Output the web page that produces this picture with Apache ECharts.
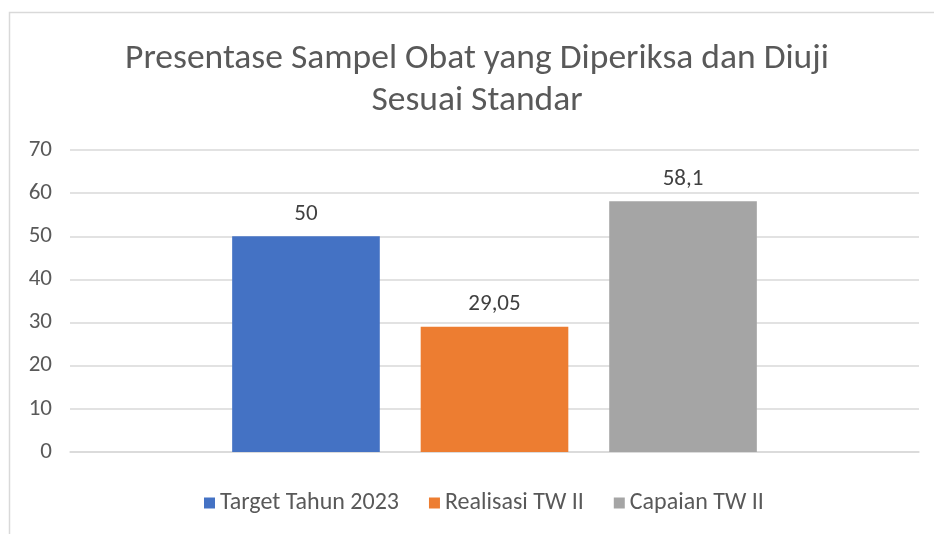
<!DOCTYPE html>
<html><head><meta charset="utf-8">
<script src="https://cdn.jsdelivr.net/npm/echarts@6/dist/echarts.min.js"></script>
<style>html,body{margin:0;padding:0;background:#fff}#c{width:934px;height:534px}</style>
</head><body><div id="c"></div>
<script>
const titleText = 'Presentase Sampel Obat yang Diperiksa dan Diuji\nSesuai Standar';
const categories = [''];
const seriesNames = ['Target Tahun 2023', 'Realisasi TW II', 'Capaian TW II'];
const seriesValues = [[50], [29.05], [58.1]];
const seriesColors = ['#4472C4', '#ED7D31', '#A5A5A5'];
const yTicks = {min: 0, max: 70, interval: 10};

const font = 'Calibri, Carlito, "Open Sans", "Noto Sans", sans-serif';
const chart = echarts.init(document.getElementById('c'), null, {renderer: 'canvas'});
chart.setOption({
  animation: false,
  backgroundColor: '#fff',
  title: {
    text: titleText, left: 477, top: 38, padding: 0, textAlign: 'center',
    textStyle: {fontFamily: font, fontSize: 35.5, fontWeight: 'normal', color: '#595959', lineHeight: 42}
  },
  graphic: [{type: 'rect', shape: {x: 9.5, y: 12.5, width: 940, height: 540},
    style: {fill: 'none', stroke: '#d9d9d9', lineWidth: 1.5}, silent: true}],
  legend: {
    bottom: 14, left: 199, itemWidth: 11, itemHeight: 11, itemGap: 30,
    icon: 'rect',
    textStyle: {fontFamily: font, fontSize: 24, color: '#595959'},
    data: seriesNames
  },
  grid: {left: 70, right: 15, top: 150, bottom: 82, containLabel: false},
  xAxis: {type: 'category', data: categories,
    axisLine: {show: true, lineStyle: {color: '#d9d9d9', width: 1.5}},
    axisTick: {show: false}, axisLabel: {show: false}},
  yAxis: {type: 'value', min: yTicks.min, max: yTicks.max, interval: yTicks.interval,
    axisLine: {show: false}, axisTick: {show: false},
    axisLabel: {fontFamily: font, fontSize: 23, color: '#595959', margin: 18},
    splitLine: {lineStyle: {color: '#d9d9d9', width: 1.5}}},
  series: seriesNames.map((n, i) => ({
    name: n, type: 'bar', data: seriesValues[i],
    itemStyle: {color: seriesColors[i]},
    barGap: '27.7%', barCategoryGap: '38.2%',
    label: {show: true, position: 'top', distance: 11,
      fontFamily: font, fontSize: 23, color: '#404040',
      formatter: p => String(p.value).replace('.', ',')}
  }))
});
</script></body></html>
